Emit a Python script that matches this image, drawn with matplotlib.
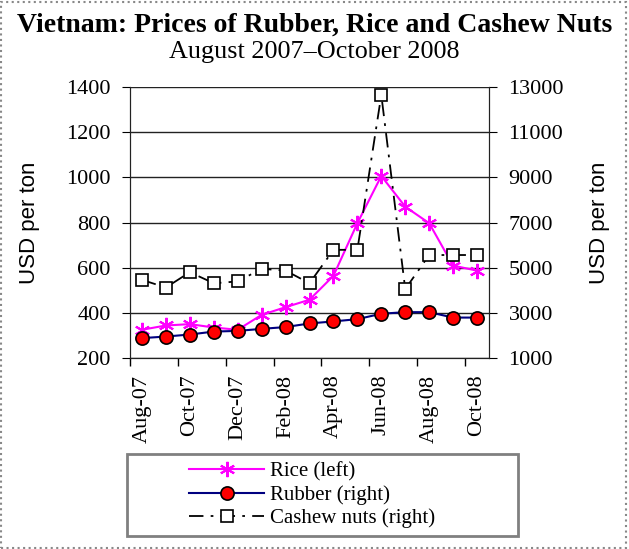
import numpy as np
import matplotlib
matplotlib.use('Agg')
import matplotlib.pyplot as plt
from matplotlib.patches import Rectangle

months = ['Aug-07', 'Sep-07', 'Oct-07', 'Nov-07', 'Dec-07', 'Jan-08', 'Feb-08', 'Mar-08',
          'Apr-08', 'May-08', 'Jun-08', 'Jul-08', 'Aug-08', 'Sep-08', 'Oct-08']
rice = [325, 344, 350, 335, 325, 391, 425, 458, 564, 797, 1006, 870, 797, 609, 587]  # left axis
rubber = [1880, 1950, 2040, 2170, 2200, 2290, 2370, 2530, 2620, 2720, 2960, 3030, 3030, 2790, 2790]  # right axis
cashew = [4460, 4120, 4800, 4310, 4390, 4950, 4870, 4310, 5790, 5790, 12650, 4050, 5560, 5560, 5560]  # right axis

serif = 'Liberation Serif'
sans = 'Liberation Sans'
ticksize = 16

fig = plt.figure(figsize=(6.29, 5.49), dpi=100)
ax = fig.add_axes([130/629, 1-358/549, 359/629, 271/549])
ax2 = ax.twinx()

x = np.arange(len(months)) + 0.5

ax.plot(x, rice, color='#FF00FF', lw=1.5, marker=(6, 2, 0), ms=11, mew=1.5,
        label='Rice (left)')
ax2.plot(x, rubber, color='#000080', lw=1.5, marker='o', ms=9.5, mfc='red',
         mec='black', mew=1.2, label='Rubber (right)')
ax2.plot(x, cashew, color='black', lw=1.3, ls=(0, (8, 4, 1.5, 4)), marker='s', ms=8,
         mfc='white', mec='black', mew=1.2, label='Cashew nuts (right)')

ax.set_xlim(0, 15)
ax.set_ylim(200, 1400)
ax.set_yticks(range(200, 1401, 200))
ax2.set_ylim(1000, 13000)
ax2.set_yticks(range(1000, 13001, 2000))

ax.set_xticks(range(0, 15, 2))
ax.set_xticklabels([])
ax.set_xticks(x[::2], minor=True)
ax.set_xticklabels(months[::2], minor=True, rotation=90, fontfamily=serif, fontsize=ticksize)
ax.tick_params(axis='x', which='major', direction='out', length=6, width=1)
ax.tick_params(axis='x', which='minor', length=0, pad=12)

ax.grid(axis='y', color='#222222', lw=1)
ax.set_axisbelow(True)
ax.tick_params(axis='y', direction='out', length=6, pad=8)
ax2.tick_params(axis='y', direction='out', length=6, pad=8)
for lbl in ax.get_yticklabels() + ax2.get_yticklabels():
    lbl.set_fontfamily(serif)
    lbl.set_fontsize(ticksize)

ax.set_ylabel('USD per ton', fontfamily=sans, fontsize=16, labelpad=18.5)
ax2.set_ylabel('USD per ton', fontfamily=sans, fontsize=16, labelpad=18)

for a in (ax, ax2):
    a.spines['top'].set_visible(False)
    for s in a.spines.values():
        s.set_color('#222222')

fig.text(0.5, 1-32/549, 'Vietnam: Prices of Rubber, Rice and Cashew Nuts', ha='center', va='baseline',
         fontfamily=serif, fontsize=20, fontweight='bold')
fig.text(0.5, 1-58/549, 'August 2007\u2013October 2008', ha='center', va='baseline',
         fontfamily=serif, fontsize=18.8)

h1, l1 = ax.get_legend_handles_labels()
h2, l2 = ax2.get_legend_handles_labels()
fig.legend(h1 + h2, l1 + l2, loc='upper left', bbox_to_anchor=(189/629, 1-462/549),
           frameon=False, borderpad=0, borderaxespad=0, handlelength=3.6, handletextpad=0.3,
           labelspacing=0.17, numpoints=1, prop={'family': serif, 'size': 15})

fig.patches.append(Rectangle((127/629, 1-536/549), 391/629, 82/549, transform=fig.transFigure,
                             fill=False, edgecolor='#808080', lw=2))
fig.patches.append(Rectangle((0.002, 0.002), 0.994, 0.994, transform=fig.transFigure,
                             fill=False, edgecolor='#888888', lw=1.5, ls=':'))

fig.savefig('out.png', dpi=100)
